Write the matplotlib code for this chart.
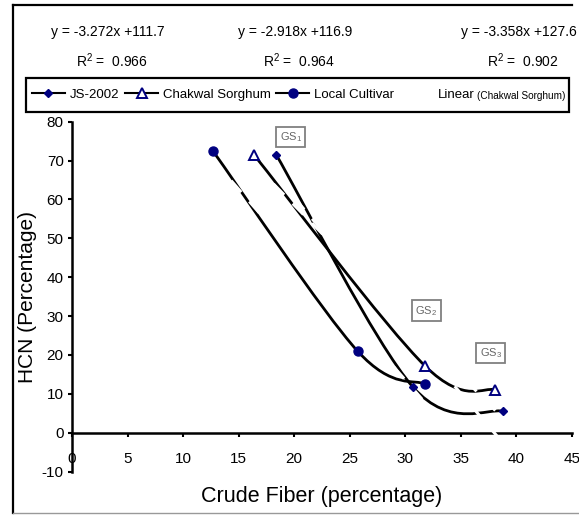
import numpy as np
import matplotlib
matplotlib.use("Agg")
import matplotlib.pyplot as plt
from matplotlib.path import Path
from matplotlib.patches import PathPatch, Rectangle
from matplotlib.lines import Line2D

plt.rcParams["axes.unicode_minus"] = False

# the original uses Arial Narrow; no narrow face here, so Liberation Sans a bit smaller
SANS = ["Liberation Sans", "DejaVu Sans"]
NAVY = "#000080"

# data
series_names = ["JS-2002", "Chakwal Sorghum", "Local Cultivar"]
js_x = [18.4, 30.7, 38.8]
js_y = [71.4, 11.7, 5.5]
chakwal_x = [16.4, 31.8, 38.1]
chakwal_y = [71.4, 17.1, 11.0]
local_x = [12.7, 25.7, 31.8]
local_y = [72.4, 21.0, 12.5]

# printed trend equations, left to right, and the series each belongs to
eq_slopes = [-3.272, -2.918, -3.358]
eq_intercepts = [111.7, 116.9, 127.6]
eq_r2 = [0.966, 0.964, 0.902]
eq_series = [2, 1, 0]

gs_labels = ["GS$_\\mathregular{1}$", "GS$_\\mathregular{2}$", "GS$_\\mathregular{3}$"]

x_ticks = list(range(0, 46, 5))
y_ticks = list(range(-10, 81, 10))


def smooth_path(xs, ys):
    # Excel style smoothed line: cubic bezier through the points
    pts = np.column_stack([xs, ys])
    n = len(pts)
    verts = [pts[0]]
    codes = [Path.MOVETO]
    for i in range(n - 1):
        p_prev = pts[max(i - 1, 0)]
        p0, p1 = pts[i], pts[i + 1]
        p_next = pts[min(i + 2, n - 1)]
        verts += [p0 + (p1 - p_prev) / 6, p1 - (p_next - p0) / 6, p1]
        codes += [Path.CURVE4] * 3
    return Path(verts, codes)


W, H = 579, 515
fig = plt.figure(figsize=(W / 100, H / 100), dpi=100)
fig.patch.set_facecolor("white")
ax = fig.add_axes([72 / W, 1 - 471.6 / H, 500 / W, 349.9 / H])

xs_all = [js_x, chakwal_x, local_x]
ys_all = [js_y, chakwal_y, local_y]
styles = [
    dict(marker="D", ms=4.5, mfc=NAVY, mec=NAVY),
    dict(marker="^", ms=7.5, mfc="white", mec=NAVY, mew=1.4),
    dict(marker="o", ms=6.5, mfc=NAVY, mec=NAVY),
]

for xs, ys in zip(xs_all, ys_all):
    ax.add_patch(PathPatch(smooth_path(xs, ys), fc="none", ec="black", lw=2, zorder=2))

# white dashed linear trend lines (they only show where they cut the curves)
for k, s in enumerate(eq_series):
    xr = np.array([min(xs_all[s]), max(xs_all[s])])
    ax.plot(xr, eq_slopes[k] * xr + eq_intercepts[k], color="white", lw=2.2,
            dashes=(5, 4), zorder=3, clip_on=False)

for xs, ys, st in zip(xs_all, ys_all, styles):
    ax.plot(xs, ys, ls="none", zorder=4, clip_on=False, **st)

ax.set_xlim(0, 45)
ax.set_ylim(-10, 80)
ax.set_xticks(x_ticks)
ax.set_yticks(y_ticks)
for side in ["top", "right"]:
    ax.spines[side].set_visible(False)
ax.spines["bottom"].set_position(("data", 0))
for side in ["left", "bottom"]:
    ax.spines[side].set_linewidth(1.8)
ax.tick_params(direction="out", length=3, width=1.5, labelsize=11)
ax.tick_params(axis="x", pad=11)
ax.tick_params(axis="y", pad=3)
for lab in ax.get_xticklabels() + ax.get_yticklabels():
    lab.set_fontfamily(SANS)

ax.set_xlabel("Crude Fiber (percentage)", fontsize=15.5, family=SANS)
ax.set_ylabel("HCN (Percentage)", fontsize=15, family=SANS)
ax.xaxis.set_label_coords(0.5, -0.041)
ax.yaxis.set_label_coords(-0.07, 0.5)

# GS boxes
gs_pos = [(19.7, 76.0), (31.9, 31.4), (37.7, 20.5)]
for lab, (gx, gy) in zip(gs_labels, gs_pos):
    ax.text(gx, gy, lab, ha="center", va="center", fontsize=8, color="#666666",
            family=SANS, zorder=5,
            bbox=dict(boxstyle="square,pad=0.3", fc="white", ec="#808080", lw=1.3))

# equations above the legend
eq_cx = [108 / W, 295 / W, 519 / W]
for k in range(3):
    fig.text(eq_cx[k], 1 - 32 / H, f"y = {eq_slopes[k]}x +{eq_intercepts[k]}",
             ha="center", va="center", fontsize=10, family=SANS)
    fig.text(eq_cx[k] + 4 / W, 1 - 61 / H, f"R$^\\mathregular{{2}}$ =  {eq_r2[k]:.3f}",
             ha="center", va="center", fontsize=10, family=SANS)

# legend
handles = [Line2D([], [], color="black", lw=1.5, **st) for st in styles]
handles.append(Line2D([], [], color="white", lw=1.5))
labels = series_names + ["Linear"]
leg = fig.legend(handles, labels, loc="center left", bbox_to_anchor=(32 / W, 1 - 95 / H),
                 ncol=4, frameon=False, handlelength=2.5, handletextpad=0.35,
                 columnspacing=0.45, borderpad=0, borderaxespad=0,
                 prop=dict(family=SANS, size=9.5))
fig.add_artist(Rectangle((26 / W, 1 - 112 / H), 543 / W, 34 / H, transform=fig.transFigure,
                         fill=False, ec="black", lw=1.6))

fig.canvas.draw()
r = fig.canvas.get_renderer()
bb = leg.get_texts()[-1].get_window_extent(r)
fig.text((bb.x1 + 3) / W, 1 - 96 / H, "(Chakwal Sorghum)", ha="left", va="center",
         fontsize=7.2, family=SANS)

# outer frame of the original picture
fig.add_artist(Line2D([13 / W, 13 / W], [1 - 513 / H, 1 - 5 / H], transform=fig.transFigure,
                      color="black", lw=1.6))
fig.add_artist(Line2D([13 / W, 572 / W], [1 - 5 / H, 1 - 5 / H], transform=fig.transFigure,
                      color="black", lw=1.6))
fig.add_artist(Line2D([13 / W, 1], [1 - 513 / H, 1 - 513 / H], transform=fig.transFigure,
                      color="#999999", lw=1))

fig.savefig("out.png", dpi=100)
